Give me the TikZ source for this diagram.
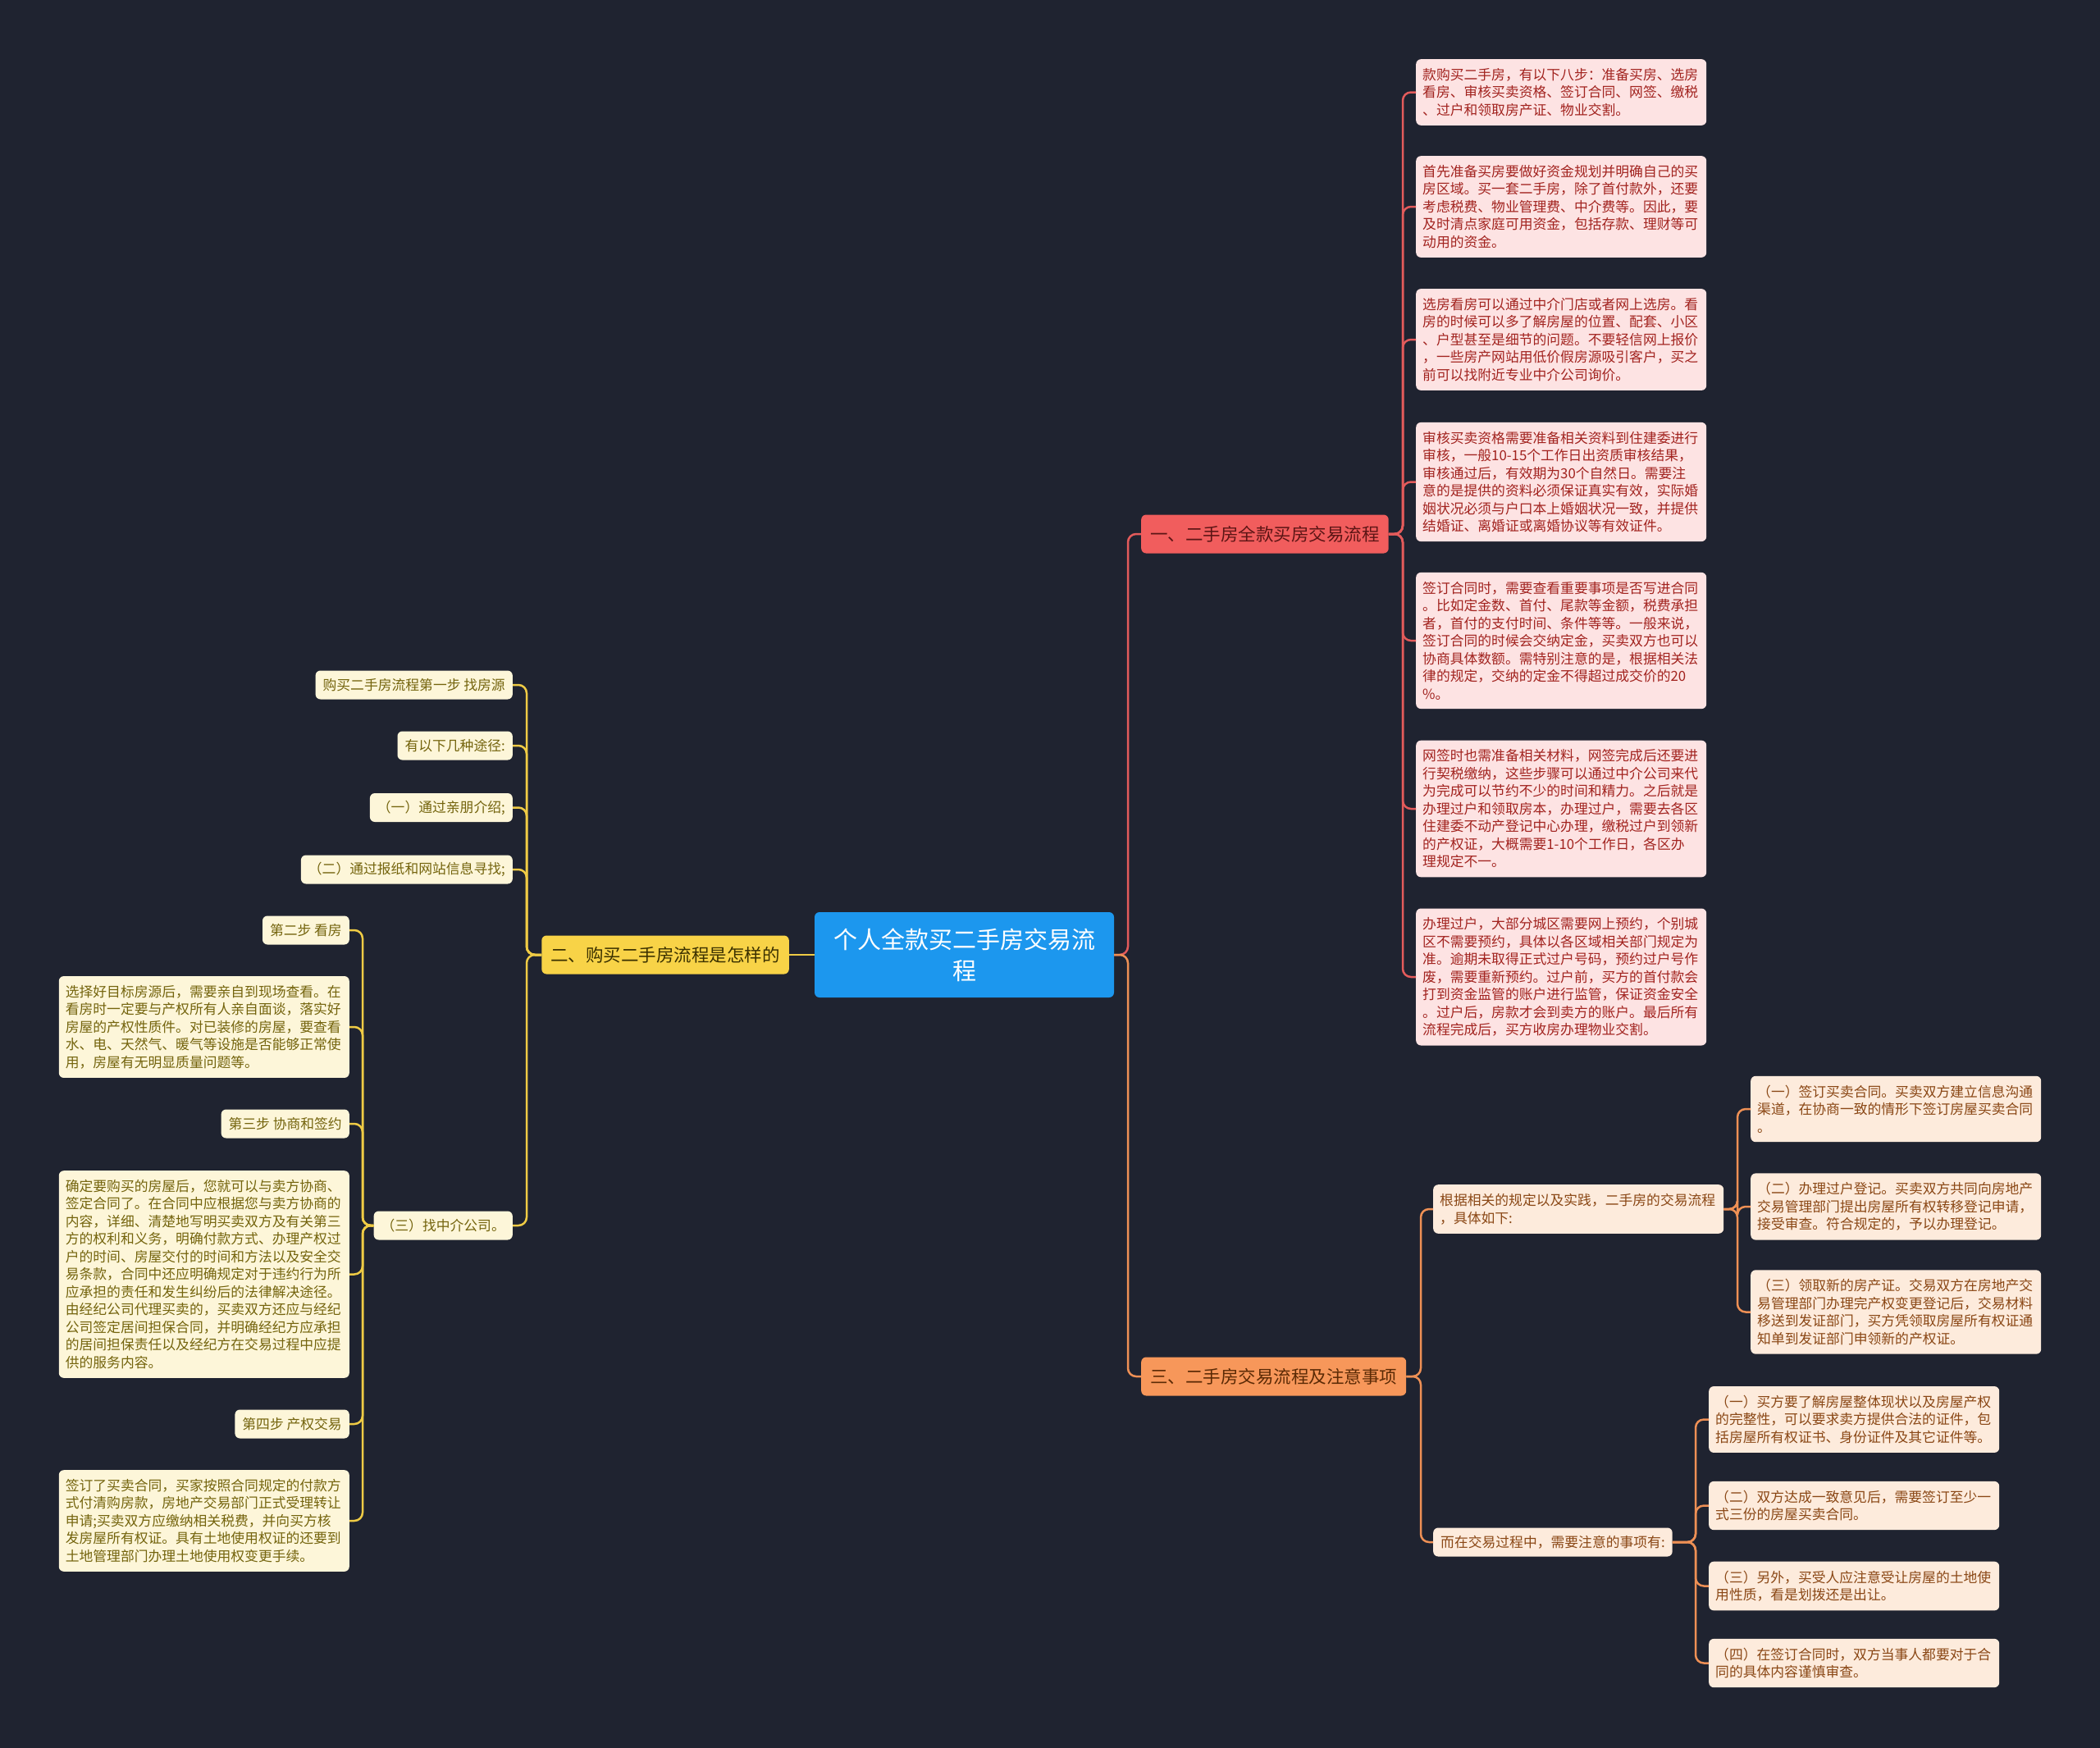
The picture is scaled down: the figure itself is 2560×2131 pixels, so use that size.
\documentclass[tikz,border=0pt]{standalone}
\usepackage{fontspec}
\setmainfont{Noto Sans CJK SC}
\definecolor{bg}{HTML}{1F2330}
\definecolor{cblue}{HTML}{1C97EE}
\definecolor{rbr}{HTML}{F15D5D}
\definecolor{rbrtext}{HTML}{5C1515}
\definecolor{rline}{HTML}{E35B5B}
\definecolor{rleaf}{HTML}{FDE3E3}
\definecolor{rtext}{HTML}{A2231F}
\definecolor{ybr}{HTML}{F8D347}
\definecolor{ybrtext}{HTML}{3B3100}
\definecolor{yline}{HTML}{EFCB45}
\definecolor{yleaf}{HTML}{FDF6D9}
\definecolor{ytext}{HTML}{74640D}
\definecolor{obr}{HTML}{F7975A}
\definecolor{obrtext}{HTML}{5B2A05}
\definecolor{oline}{HTML}{EE9055}
\definecolor{oleaf}{HTML}{FDEBDC}
\definecolor{otext}{HTML}{8A4715}
\begin{document}
\begin{tikzpicture}[x=1pt,y=-1pt,
  leaf/.style={rounded corners=6pt, inner xsep=8pt, inner ysep=11pt, align=left,
    text width=338pt, font=\fontsize{16.8}{21.5}\selectfont},
  shortleaf/.style={rounded corners=6pt, inner xsep=9pt, inner ysep=0pt,
    minimum height=35pt, font=\fontsize{16.8}{21.5}\selectfont},
  rleafbox/.style={leaf, fill=rleaf, text=rtext, anchor=west},
  yleafbox/.style={leaf, fill=yleaf, text=ytext, anchor=east},
  yshort/.style={shortleaf, fill=yleaf, text=ytext, anchor=east},
  oleafbox/.style={leaf, fill=oleaf, text=otext, anchor=west},
  oshort/.style={shortleaf, fill=oleaf, text=otext, anchor=west},
  branchbox/.style={rounded corners=6pt, inner xsep=11pt, inner ysep=0pt,
    minimum height=47pt, font=\fontsize{21.5}{26}\selectfont},
  conn/.style={line width=2.5pt, rounded corners=10pt},
  rconn/.style={conn, draw=rline},
  yconn/.style={conn, draw=yline},
  oconn/.style={conn, draw=oline}]
\fill[bg] (0,0) rectangle (2560,2131);
\useasboundingbox (0,0) rectangle (2560,2131);

% buses
\coordinate (bC) at (1375,0);
\coordinate (bR) at (1710,0);
\coordinate (bY) at (642,0);
\coordinate (bY2) at (442,0);
\coordinate (bO) at (1732,0);
\coordinate (bE) at (2118,0);
\coordinate (bF) at (2067,0);

% centre
\node[rounded corners=6pt, fill=cblue, text=white, align=center, text width=330pt,
  minimum width=365pt, minimum height=104pt, inner sep=0pt,
  font=\fontsize{29}{38}\selectfont] (c) at (1175.5,1164) {个人全款买二手房交易流\\程};

% branches
\node[branchbox, fill=rbr, text=rbrtext, anchor=west] (b1) at (1391,651) {一、二手房全款买房交易流程};
\node[branchbox, fill=ybr, text=ybrtext, anchor=east] (b2) at (962,1164) {二、购买二手房流程是怎样的};
\node[branchbox, fill=obr, text=obrtext, anchor=west] (b3) at (1391,1678) {三、二手房交易流程及注意事项};

% red leaves
\node[rleafbox] (r1) at (1726,112.5) {款购买二手房，有以下八步：准备买房、选房\\看房、审核买卖资格、签订合同、网签、缴税\\、过户和领取房产证、物业交割。};
\node[rleafbox] (r2) at (1726,252) {首先准备买房要做好资金规划并明确自己的买\\房区域。买一套二手房，除了首付款外，还要\\考虑税费、物业管理费、中介费等。因此，要\\及时清点家庭可用资金，包括存款、理财等可\\动用的资金。};
\node[rleafbox] (r3) at (1726,414) {选房看房可以通过中介门店或者网上选房。看\\房的时候可以多了解房屋的位置、配套、小区\\、户型甚至是细节的问题。不要轻信网上报价\\，一些房产网站用低价假房源吸引客户，买之\\前可以找附近专业中介公司询价。};
\node[rleafbox] (r4) at (1726,587.5) {审核买卖资格需要准备相关资料到住建委进行\\审核，一般10-15个工作日出资质审核结果，\\审核通过后，有效期为30个自然日。需要注\\意的是提供的资料必须保证真实有效，实际婚\\姻状况必须与户口本上婚姻状况一致，并提供\\结婚证、离婚证或离婚协议等有效证件。};
\node[rleafbox] (r5) at (1726,781) {签订合同时，需要查看重要事项是否写进合同\\。比如定金数、首付、尾款等金额，税费承担\\者，首付的支付时间、条件等等。一般来说，\\签订合同的时候会交纳定金，买卖双方也可以\\协商具体数额。需特别注意的是，根据相关法\\律的规定，交纳的定金不得超过成交价的20\\\%。};
\node[rleafbox] (r6) at (1726,986) {网签时也需准备相关材料，网签完成后还要进\\行契税缴纳，这些步骤可以通过中介公司来代\\为完成可以节约不少的时间和精力。之后就是\\办理过户和领取房本，办理过户，需要去各区\\住建委不动产登记中心办理，缴税过户到领新\\的产权证，大概需要1-10个工作日，各区办\\理规定不一。};
\node[rleafbox] (r7) at (1726,1191) {办理过户，大部分城区需要网上预约，个别城\\区不需要预约，具体以各区域相关部门规定为\\准。逾期未取得正式过户号码，预约过户号作\\废，需要重新预约。过户前，买方的首付款会\\打到资金监管的账户进行监管，保证资金安全\\。过户后，房款才会到卖方的账户。最后所有\\流程完成后，买方收房办理物业交割。};

% yellow side
\node[yshort] (y1) at (625,835) {购买二手房流程第一步 找房源};
\node[yshort] (y2) at (625,909) {有以下几种途径:};
\node[yshort] (y3) at (625,984.5) {（一）通过亲朋介绍;};
\node[yshort] (y4) at (625,1060) {（二）通过报纸和网站信息寻找;};
\node[yshort] (y5) at (625,1494) {（三）找中介公司。};
\node[yshort] (s2) at (426,1134) {第二步 看房};
\node[yleafbox] (t2) at (426,1252) {选择好目标房源后，需要亲自到现场查看。在\\看房时一定要与产权所有人亲自面谈，落实好\\房屋的产权性质件。对已装修的房屋，要查看\\水、电、天然气、暖气等设施是否能够正常使\\用，房屋有无明显质量问题等。};
\node[yshort] (s3) at (426,1370) {第三步 协商和签约};
\node[yleafbox] (t3) at (426,1553.5) {确定要购买的房屋后，您就可以与卖方协商、\\签定合同了。在合同中应根据您与卖方协商的\\内容，详细、清楚地写明买卖双方及有关第三\\方的权利和义务，明确付款方式、办理产权过\\户的时间、房屋交付的时间和方法以及安全交\\易条款，合同中还应明确规定对于违约行为所\\应承担的责任和发生纠纷后的法律解决途径。\\由经纪公司代理买卖的，买卖双方还应与经纪\\公司签定居间担保合同，并明确经纪方应承担\\的居间担保责任以及经纪方在交易过程中应提\\供的服务内容。};
\node[yshort] (s4) at (426,1736) {第四步 产权交易};
\node[yleafbox] (t4) at (426,1854) {签订了买卖合同，买家按照合同规定的付款方\\式付清购房款，房地产交易部门正式受理转让\\申请;买卖双方应缴纳相关税费，并向买方核\\发房屋所有权证。具有土地使用权证的还要到\\土地管理部门办理土地使用权变更手续。};

% orange side
\node[oleafbox] (d1) at (1747,1474) {根据相关的规定以及实践，二手房的交易流程\\，具体如下:};
\node[oshort] (d2) at (1747,1880) {而在交易过程中，需要注意的事项有:};
\node[oleafbox] (e1) at (2134,1352) {（一）签订买卖合同。买卖双方建立信息沟通\\渠道，在协商一致的情形下签订房屋买卖合同\\。};
\node[oleafbox] (e2) at (2134,1471) {（二）办理过户登记。买卖双方共同向房地产\\交易管理部门提出房屋所有权转移登记申请，\\接受审查。符合规定的，予以办理登记。};
\node[oleafbox] (e3) at (2134,1599.5) {（三）领取新的房产证。交易双方在房地产交\\易管理部门办理完产权变更登记后，交易材料\\移送到发证部门，买方凭领取房屋所有权证通\\知单到发证部门申领新的产权证。};
\node[oleafbox] (f1) at (2083,1730.5) {（一）买方要了解房屋整体现状以及房屋产权\\的完整性，可以要求卖方提供合法的证件，包\\括房屋所有权证书、身份证件及其它证件等。};
\node[oleafbox] (f2) at (2083,1835.5) {（二）双方达成一致意见后，需要签订至少一\\式三份的房屋买卖合同。};
\node[oleafbox] (f3) at (2083,1933.5) {（三）另外，买受人应注意受让房屋的土地使\\用性质，看是划拨还是出让。};
\node[oleafbox] (f4) at (2083,2027.5) {（四）在签订合同时，双方当事人都要对于合\\同的具体内容谨慎审查。};

% connectors: centre
\draw[yconn] (c.west) -- (b2.east);
\draw[rconn] (c.east) -- (c.east -| bC) |- (b1.west);
\draw[oconn] (c.east) -- (c.east -| bC) |- (b3.west);

% red
\foreach \n in {r1,r2,r3,r4,r5,r6,r7}
  \draw[rconn] (b1.east) -- (b1.east -| bR) |- (\n.west);

% yellow
\foreach \n in {y1,y2,y3,y4,y5}
  \draw[yconn] (b2.west) -- (b2.west -| bY) |- (\n.east);
\foreach \n in {s2,t2,s3,t3,s4,t4}
  \draw[yconn] (y5.west) -- (y5.west -| bY2) |- (\n.east);

% orange
\foreach \n in {d1,d2}
  \draw[oconn] (b3.east) -- (b3.east -| bO) |- (\n.west);
\foreach \n in {e1,e2,e3}
  \draw[oconn] (d1.east) -- (d1.east -| bE) |- (\n.west);
\foreach \n in {f1,f2,f3,f4}
  \draw[oconn] (d2.east) -- (d2.east -| bF) |- (\n.west);
\end{tikzpicture}
\end{document}
